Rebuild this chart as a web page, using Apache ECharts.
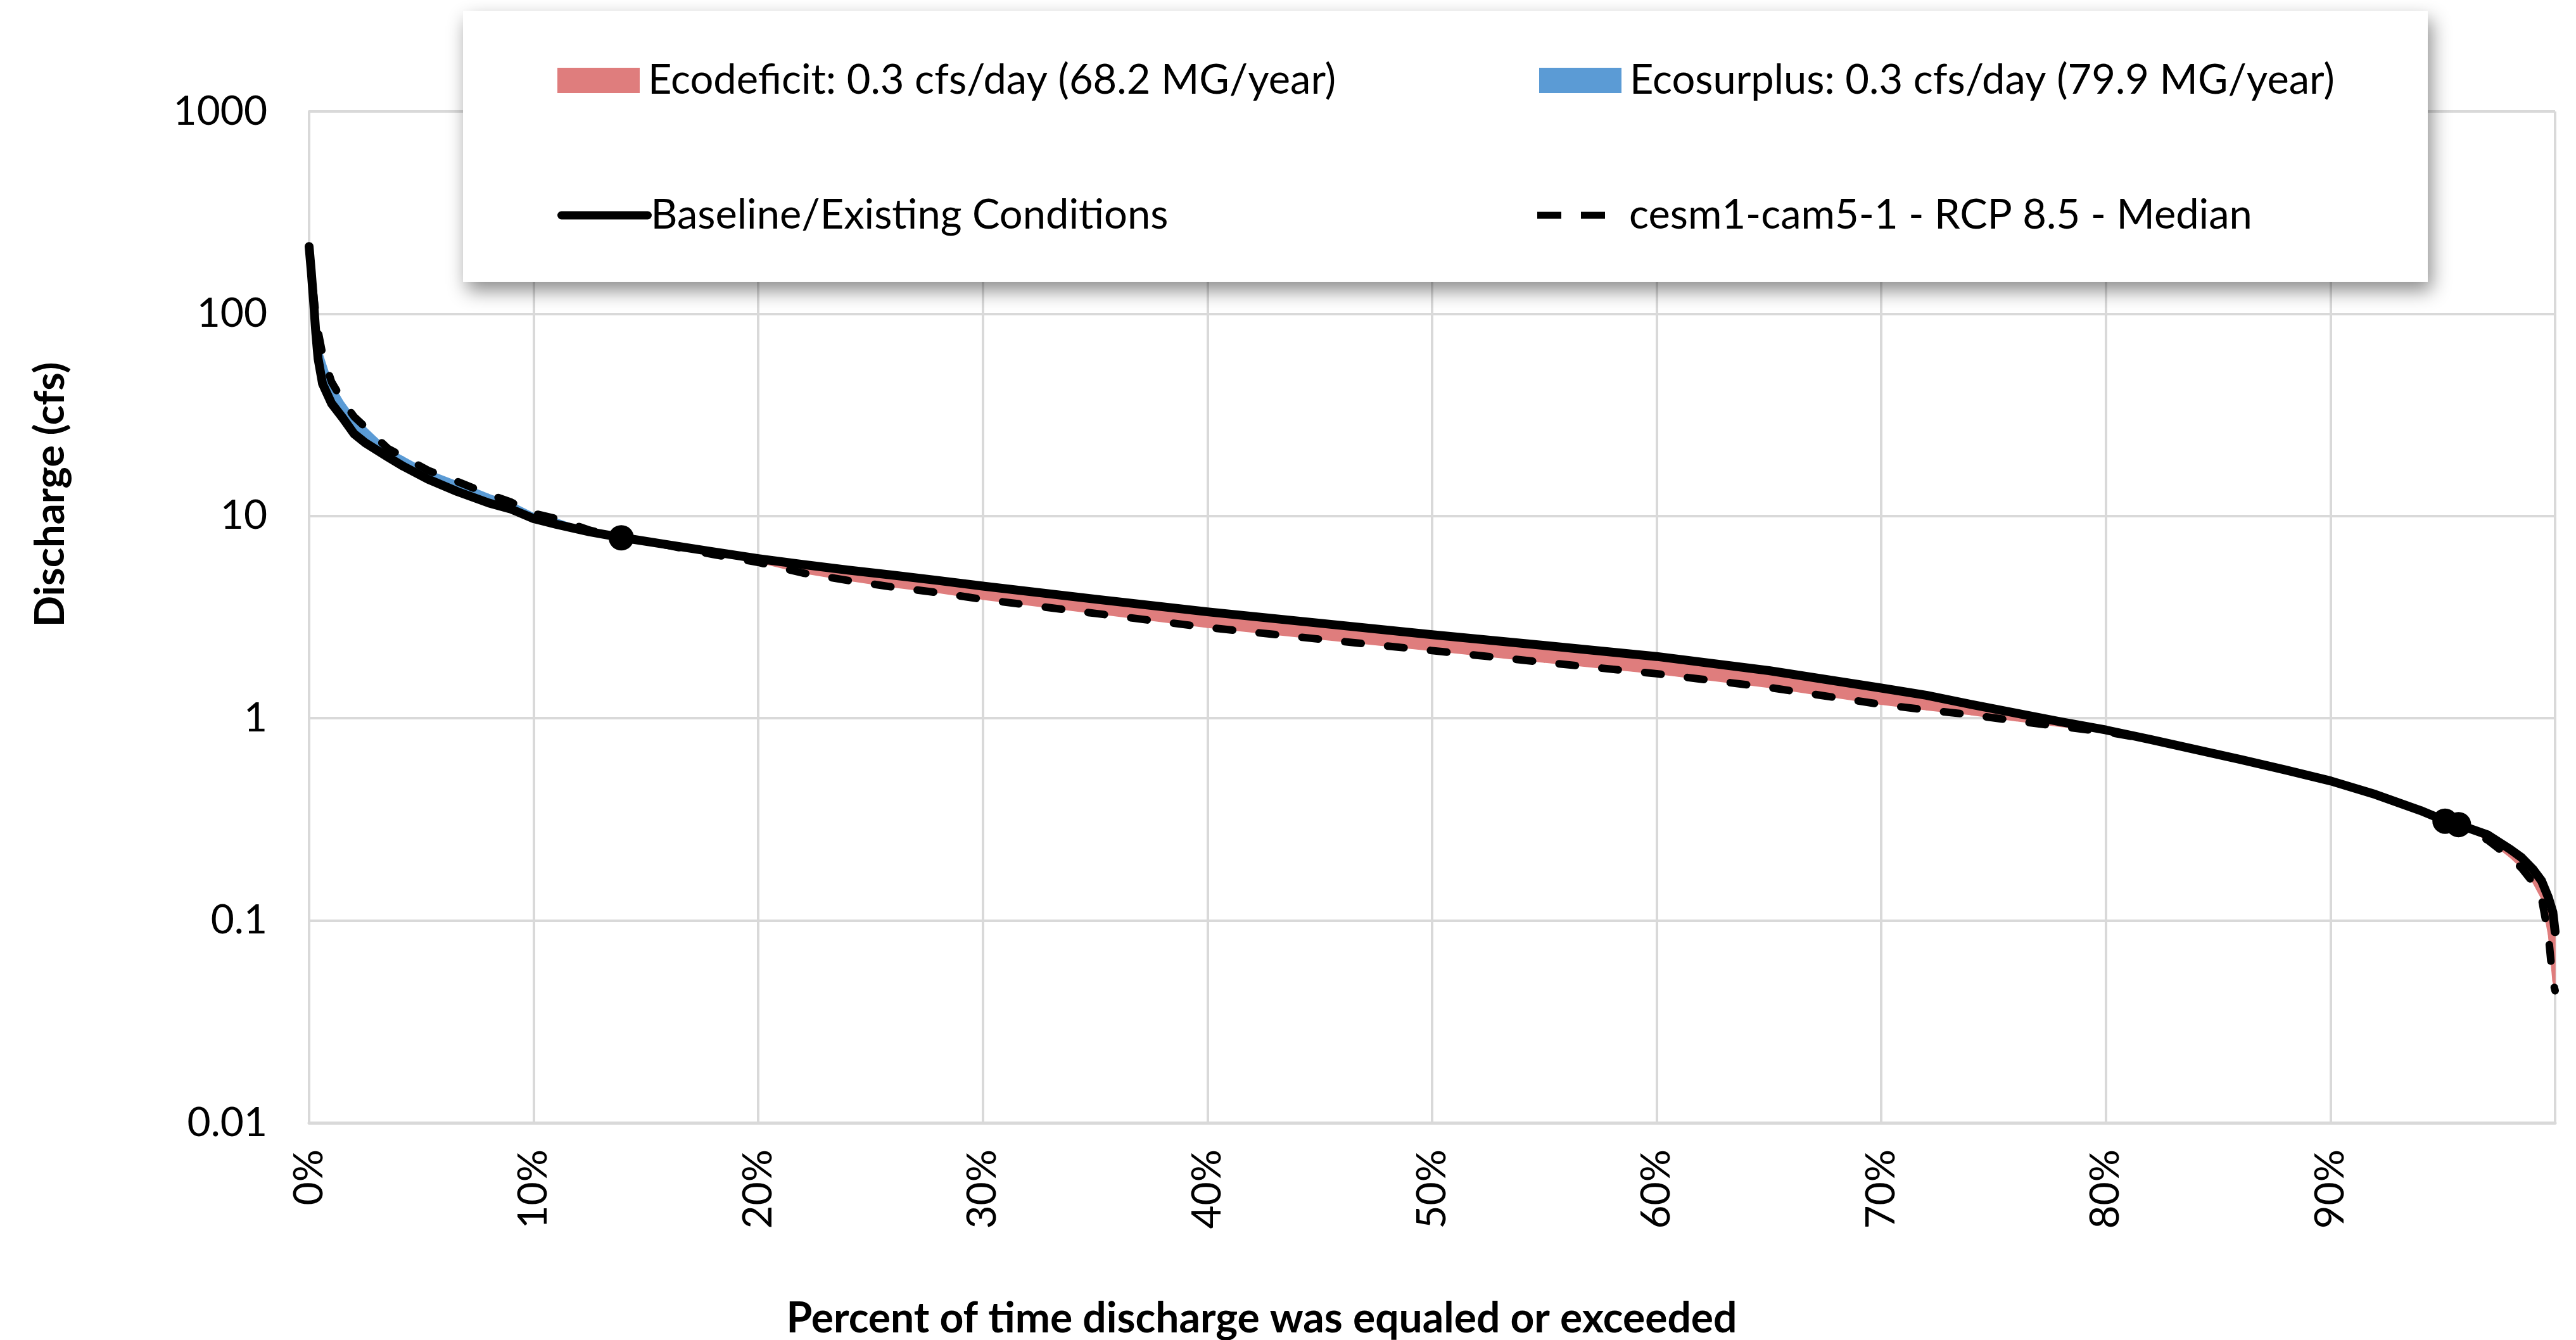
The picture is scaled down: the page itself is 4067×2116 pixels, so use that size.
<!DOCTYPE html>
<html>
<head>
<meta charset="utf-8">
<script src="https://cdn.jsdelivr.net/npm/echarts@6/dist/echarts.min.js"></script>
<style>
html,body{margin:0;padding:0;background:#ffffff;}
#chart{width:4067px;height:2116px;}
</style>
</head>
<body>
<div id="chart"></div>
<script>
// ---- Data ----
const pctExceeded = [0, 0.1, 0.2, 0.3, 0.4, 0.6, 1, 1.5, 2, 2.5, 3.5, 4.2, 5.3, 6.6, 8, 9, 10, 11, 12.5, 14, 16, 18, 20, 22, 24, 26, 28, 30, 35, 40, 45, 50, 55, 60, 65, 70, 72, 74, 76, 78, 80, 82, 84, 86, 88, 90, 92, 94, 95, 96, 97, 98, 98.5, 99, 99.4, 99.7, 99.9, 100];
const baselineFlow = [215, 160, 115, 80, 60, 45, 36, 30.5, 25.5, 23, 19.6, 17.6, 15.2, 13.2, 11.6, 10.8, 9.7, 9.1, 8.35, 7.8, 7.2, 6.65, 6.15, 5.75, 5.4, 5.1, 4.8, 4.5, 3.88, 3.36, 2.95, 2.59, 2.29, 2.02, 1.72, 1.41, 1.3, 1.17, 1.06, 0.96, 0.875, 0.785, 0.70, 0.625, 0.555, 0.49, 0.42, 0.35, 0.315, 0.29, 0.265, 0.225, 0.205, 0.18, 0.157, 0.13, 0.11, 0.088];
const futureFlow = [210, 165, 125, 98, 82, 63, 46, 37, 31, 27.5, 21.6, 19.6, 16.8, 14.8, 12.8, 11.7, 10.3, 9.7, 8.5, 7.8, 7.15, 6.45, 5.9, 5.22, 4.8, 4.45, 4.18, 3.87, 3.3, 2.81, 2.46, 2.16, 1.89, 1.66, 1.42, 1.17, 1.1, 1.04, 0.97, 0.91, 0.855, 0.785, 0.70, 0.625, 0.555, 0.49, 0.42, 0.35, 0.313, 0.283, 0.25, 0.205, 0.182, 0.155, 0.128, 0.085, 0.05, 0.045];
const markerPct = [13.9, 95.1, 95.7];
const markerFlow = [7.8, 0.31, 0.298];
const xTickValues = [0, 10, 20, 30, 40, 50, 60, 70, 80, 90, 100];
const xTickLabels = ['0%', '10%', '20%', '30%', '40%', '50%', '60%', '70%', '80%', '90%', ''];
const yTickValues = [0.01, 0.1, 1, 10, 100, 1000];
const yTickLabels = ['0.01', '0.1', '1', '10', '100', '1000'];
const nameDeficit = 'Ecodeficit: 0.3 cfs/day (68.2 MG/year)';
const nameSurplus = 'Ecosurplus: 0.3 cfs/day (79.9 MG/year)';
const nameBaseline = 'Baseline/Existing Conditions';
const nameFuture = 'cesm1-cam5-1 - RCP 8.5 - Median';
const xTitle = 'Percent of time discharge was equaled or exceeded';
const yTitle = 'Discharge (cfs)';

// ---- Build series data ----
const baselineData = pctExceeded.map((x, i) => [x, baselineFlow[i]]);
const futureData = pctExceeded.map((x, i) => [x, futureFlow[i]]);
const markerData = markerPct.map((x, i) => [x, markerFlow[i]]);
const segments = [];
for (let i = 0; i < pctExceeded.length - 1; i++) {
  segments.push([pctExceeded[i], baselineFlow[i], futureFlow[i], pctExceeded[i + 1], baselineFlow[i + 1], futureFlow[i + 1]]);
}

const FONT = 'Lato';
const RED = '#DF7D7D';
const BLUE = '#5B9BD5';

function makeFillRender(sign, color) {
  return function (params, api) {
    const x0 = api.value(0), b0 = api.value(1), f0 = api.value(2);
    const x1 = api.value(3), b1 = api.value(4), f1 = api.value(5);
    const lb0 = Math.log10(b0), lf0 = Math.log10(f0), lb1 = Math.log10(b1), lf1 = Math.log10(f1);
    const d0 = sign * (lb0 - lf0), d1 = sign * (lb1 - lf1);
    let pts = null;
    if (d0 > 0 && d1 > 0) {
      pts = [[x0, b0], [x1, b1], [x1, f1], [x0, f0]];
    } else if (d0 > 0 || d1 > 0) {
      const t = d0 / (d0 - d1);
      const cx = x0 + t * (x1 - x0);
      const cy = Math.pow(10, lb0 + t * (lb1 - lb0));
      if (d0 > 0) pts = [[x0, b0], [cx, cy], [x0, f0]];
      else pts = [[cx, cy], [x1, b1], [x1, f1]];
    }
    if (!pts) return null;
    return {
      type: 'polygon',
      shape: { points: pts.map(p => api.coord(p)) },
      style: { fill: color, stroke: color, lineWidth: 1.5 }
    };
  };
}

const chart = echarts.init(document.getElementById('chart'), null, { renderer: 'canvas' });

function legendCommon(padLeft) {
  return {
    orient: 'horizontal',
    padding: 0,
    itemGap: 0,
    z: 20,
    selectedMode: false,
    textStyle: { fontFamily: FONT, fontSize: 65, color: '#000', lineHeight: 72, padding: [0, 0, 0, padLeft] }
  };
}

const dashIcon = 'path://M0,0L38,0L38,11L0,11Z M69,0L107,0L107,11L69,11Z';

const option = {
  animation: false,
  backgroundColor: '#ffffff',
  grid: { left: 488, right: 33, top: 176, bottom: 343, containLabel: false },
  xAxis: {
    type: 'value', min: 0, max: 100, interval: 10,
    axisLine: { show: true, lineStyle: { color: '#d9d9d9', width: 5 } },
    axisTick: { show: false },
    splitLine: { show: true, lineStyle: { color: '#d9d9d9', width: 4 } },
    axisLabel: {
      rotate: 90, margin: 42, fontFamily: FONT, fontSize: 64, color: '#000',
      formatter: v => { const k = xTickValues.indexOf(v); return k >= 0 ? xTickLabels[k] : ''; }
    }
  },
  yAxis: {
    type: 'log', logBase: 10, min: 0.01, max: 1000,
    axisLine: { show: true, lineStyle: { color: '#d9d9d9', width: 4 } },
    axisTick: { show: false },
    splitLine: { show: true, lineStyle: { color: '#d9d9d9', width: 4 } },
    axisLabel: {
      margin: 66, fontFamily: FONT, fontSize: 64, color: '#000',
      formatter: v => {
        let best = 0, bd = Infinity;
        yTickValues.forEach((t, k) => { const d = Math.abs(Math.log10(t) - Math.log10(v)); if (d < bd) { bd = d; best = k; } });
        return yTickLabels[best];
      }
    }
  },
  legend: [
    Object.assign(legendCommon(8), { data: [{ name: nameDeficit, icon: 'rect' }], left: 880, top: 91, itemWidth: 130, itemHeight: 40 }),
    Object.assign(legendCommon(8), { data: [{ name: nameSurplus, icon: 'rect' }], left: 2430, top: 91, itemWidth: 130, itemHeight: 40 }),
    Object.assign(legendCommon(0), { data: [nameBaseline], left: 880, top: 304, itemWidth: 136, itemHeight: 14, lineStyle: { width: 13 } }),
    Object.assign(legendCommon(33), { data: [{ name: nameFuture, icon: dashIcon, itemStyle: { color: '#000' } }], left: 2427, top: 304, itemWidth: 107, itemHeight: 11 })
  ],
  graphic: [
    {
      type: 'rect', z: 10, silent: true,
      shape: { x: 731, y: 17, width: 3102, height: 428 },
      style: { fill: '#ffffff', shadowBlur: 28, shadowOffsetX: 6, shadowOffsetY: 14, shadowColor: 'rgba(0,0,0,0.45)' }
    },
    {
      type: 'text', z: 10, silent: true, x: 80, y: 781, rotation: Math.PI / 2,
      style: { text: yTitle, fontFamily: FONT, fontSize: 65, fontWeight: 'bold', fill: '#000', align: 'center', verticalAlign: 'middle', textAlign: 'center', textVerticalAlign: 'middle' }
    },
    {
      type: 'text', z: 10, silent: true, x: 1992, y: 2083,
      style: { text: xTitle, fontFamily: FONT, fontSize: 66, fontWeight: 'bold', fill: '#000', align: 'center', verticalAlign: 'middle', textAlign: 'center', textVerticalAlign: 'middle' }
    }
  ],
  series: [
    {
      name: nameDeficit, type: 'custom', z: 1, color: RED,
      itemStyle: { color: RED },
      renderItem: makeFillRender(1, RED),
      encode: { x: [0, 3], y: [1, 2, 4, 5] },
      data: segments, silent: true
    },
    {
      name: nameSurplus, type: 'custom', z: 1, color: BLUE,
      itemStyle: { color: BLUE },
      renderItem: makeFillRender(-1, BLUE),
      encode: { x: [0, 3], y: [1, 2, 4, 5] },
      data: segments, silent: true
    },
    {
      name: nameFuture, type: 'line', z: 3, symbol: 'none', showSymbol: false,
      color: '#000',
      lineStyle: { color: '#000', width: 12, type: [26, 42], cap: 'round', join: 'round' },
      data: futureData, silent: true
    },
    {
      name: nameBaseline, type: 'line', z: 4, symbol: 'none', showSymbol: false,
      color: '#000',
      lineStyle: { color: '#000', width: 14, cap: 'round', join: 'round' },
      data: baselineData, silent: true
    },
    {
      name: 'Markers', type: 'scatter', z: 5, symbol: 'circle', symbolSize: 40,
      itemStyle: { color: '#000', opacity: 1 },
      data: markerData, silent: true
    }
  ]
};
chart.setOption(option);
</script>
</body>
</html>
